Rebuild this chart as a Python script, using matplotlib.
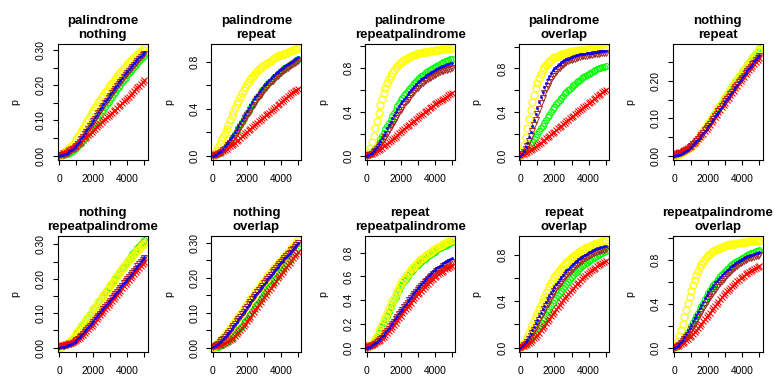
import matplotlib
matplotlib.use("Agg")
import matplotlib.pyplot as plt

plt.rcParams['font.family'] = ['Liberation Sans', 'DejaVu Sans']

x_vals = [0, 100, 200, 300, 400, 500, 600, 700, 800, 900,
          1000, 1100, 1200, 1300, 1400, 1500, 1600, 1700, 1800, 1900,
          2000, 2100, 2200, 2300, 2400, 2500, 2600, 2700, 2800, 2900,
          3000, 3100, 3200, 3300, 3400, 3500, 3600, 3700, 3800, 3900,
          4000, 4100, 4200, 4300, 4400, 4500, 4600, 4700, 4800, 4900,
          5000]

titles = ["palindrome\nnothing", "palindrome\nrepeat", "palindrome\nrepeatpalindrome",
          "palindrome\noverlap", "nothing\nrepeat", "nothing\nrepeatpalindrome",
          "nothing\noverlap", "repeat\nrepeatpalindrome", "repeat\noverlap",
          "repeatpalindrome\noverlap"]

# ---- panel 1: palindrome / nothing
pal_nothing_yellow = [.000,.003,.006,.010,.014,.018,.023,.028,.034,.040,
    .047,.055,.063,.071,.079,.087,.096,.104,.113,.122,
    .130,.138,.145,.152,.159,.166,.173,.180,.187,.194,
    .200,.207,.213,.219,.225,.231,.237,.243,.249,.255,
    .260,.265,.269,.274,.279,.284,.288,.293,.297,.301,
    .305]
pal_nothing_green = [.000,.000,.001,.002,.004,.006,.008,.011,.014,.018,
    .022,.027,.032,.038,.044,.050,.057,.064,.071,.078,
    .086,.093,.101,.108,.116,.123,.131,.138,.146,.153,
    .160,.167,.174,.181,.188,.195,.202,.208,.215,.221,
    .228,.234,.240,.246,.252,.257,.263,.268,.274,.279,
    .284]
pal_nothing_brown = [.000,.001,.002,.003,.005,.008,.011,.015,.019,.023,
    .028,.034,.040,.047,.054,.061,.068,.075,.083,.090,
    .098,.105,.113,.120,.128,.135,.142,.149,.156,.163,
    .170,.177,.184,.190,.197,.203,.210,.216,.223,.229,
    .235,.241,.247,.252,.258,.263,.269,.274,.280,.285,
    .290]
pal_nothing_blue = [.000,.001,.002,.004,.006,.009,.012,.016,.020,.025,
    .030,.036,.043,.050,.057,.064,.072,.079,.087,.094,
    .102,.109,.117,.124,.132,.139,.147,.154,.161,.168,
    .175,.182,.189,.195,.202,.208,.215,.221,.228,.234,
    .240,.246,.252,.257,.263,.268,.274,.279,.284,.289,
    .294]
pal_nothing_red = [.005,.006,.007,.008,.010,.012,.015,.018,.021,.024,
    .028,.032,.036,.040,.045,.049,.054,.058,.063,.068,
    .073,.077,.082,.086,.091,.095,.100,.104,.109,.113,
    .118,.122,.127,.131,.136,.140,.145,.149,.154,.158,
    .163,.168,.173,.178,.183,.188,.194,.199,.204,.209,
    .215]

# ---- panel 2: palindrome / repeat
pal_repeat_yellow = [.000,.018,.040,.070,.100,.130,.160,.195,.230,.265,
    .300,.335,.370,.405,.440,.470,.500,.530,.560,.585,
    .610,.630,.650,.670,.690,.705,.720,.735,.750,.760,
    .770,.780,.790,.800,.810,.820,.830,.840,.850,.855,
    .860,.865,.870,.878,.885,.890,.895,.900,.905,.910,
    .915]
pal_repeat_green = [.000,.004,.010,.017,.025,.037,.050,.067,.085,.102,
    .120,.140,.160,.185,.210,.235,.260,.285,.310,.335,
    .360,.385,.410,.433,.455,.478,.500,.520,.540,.560,
    .580,.595,.610,.625,.640,.655,.670,.683,.695,.708,
    .720,.733,.745,.755,.765,.775,.785,.795,.805,.815,
    .825]
pal_repeat_brown = [.000,.002,.005,.012,.020,.032,.045,.060,.075,.092,
    .110,.130,.150,.172,.195,.220,.245,.270,.295,.320,
    .345,.368,.390,.413,.435,.458,.480,.500,.520,.540,
    .560,.578,.595,.610,.625,.640,.655,.668,.680,.693,
    .705,.718,.730,.740,.750,.760,.770,.780,.790,.800,
    .810]
pal_repeat_blue = [.000,.004,.010,.019,.030,.044,.060,.080,.100,.120,
    .140,.160,.180,.205,.230,.255,.280,.305,.330,.355,
    .380,.405,.430,.455,.480,.500,.520,.540,.560,.580,
    .600,.615,.630,.645,.660,.675,.690,.703,.715,.728,
    .740,.750,.760,.770,.780,.790,.800,.810,.820,.830,
    .840]
pal_repeat_red = [.010,.012,.015,.020,.025,.032,.040,.050,.060,.070,
    .080,.090,.100,.112,.125,.138,.150,.165,.180,.193,
    .205,.218,.230,.243,.255,.268,.280,.293,.305,.318,
    .330,.343,.355,.368,.380,.393,.405,.418,.430,.443,
    .455,.468,.480,.493,.505,.518,.530,.540,.550,.560,
    .570]

# ---- panel 3: palindrome / repeatpalindrome
pal_reppal_yellow = [.000,.030,.070,.125,.180,.250,.320,.390,.460,.518,
    .570,.618,.660,.698,.730,.757,.780,.800,.820,.836,
    .850,.863,.875,.885,.895,.903,.910,.915,.920,.925,
    .930,.935,.940,.943,.945,.948,.950,.953,.955,.958,
    .960,.963,.965,.968,.970,.972,.973,.975,.976,.978,
    .980]
pal_reppal_green = [.000,.008,.020,.034,.050,.068,.090,.118,.150,.180,
    .210,.240,.270,.300,.330,.360,.390,.420,.450,.480,
    .510,.530,.550,.570,.590,.610,.630,.648,.665,.683,
    .700,.713,.725,.738,.750,.760,.770,.780,.790,.800,
    .810,.820,.830,.838,.845,.853,.860,.865,.870,.878,
    .885]
pal_reppal_brown = [.000,.004,.010,.019,.030,.044,.060,.080,.100,.125,
    .150,.175,.200,.230,.260,.285,.310,.340,.370,.395,
    .420,.445,.470,.490,.510,.530,.550,.570,.590,.605,
    .620,.635,.650,.665,.680,.690,.700,.710,.720,.730,
    .740,.748,.755,.763,.770,.775,.780,.785,.790,.795,
    .800]
pal_reppal_blue = [.000,.006,.015,.026,.040,.058,.080,.104,.130,.160,
    .190,.220,.250,.280,.310,.340,.370,.400,.430,.455,
    .480,.500,.520,.540,.560,.580,.600,.618,.635,.653,
    .670,.685,.700,.710,.720,.733,.745,.755,.765,.775,
    .785,.793,.800,.808,.815,.823,.830,.835,.840,.845,
    .850]
pal_reppal_red = [.010,.012,.015,.020,.025,.032,.040,.050,.060,.072,
    .085,.098,.110,.123,.135,.148,.160,.175,.190,.205,
    .220,.233,.245,.258,.270,.283,.295,.308,.320,.333,
    .345,.358,.370,.383,.395,.408,.420,.433,.445,.458,
    .470,.480,.490,.500,.510,.520,.530,.540,.550,.560,
    .570]

# ---- panel 4: palindrome / overlap
pal_overlap_yellow = [.000,.045,.100,.175,.250,.335,.420,.493,.560,.618,
    .670,.712,.750,.782,.810,.832,.850,.866,.880,.891,
    .900,.908,.915,.923,.930,.935,.940,.944,.948,.952,
    .955,.958,.960,.963,.965,.967,.968,.970,.971,.973,
    .974,.975,.976,.977,.978,.979,.980,.981,.982,.983,
    .984]
pal_overlap_green = [.000,.015,.030,.045,.060,.080,.100,.125,.150,.175,
    .200,.225,.250,.275,.300,.325,.350,.375,.400,.425,
    .450,.470,.490,.510,.530,.550,.570,.585,.600,.615,
    .630,.645,.660,.673,.685,.698,.710,.720,.730,.740,
    .750,.760,.770,.778,.785,.793,.800,.805,.810,.815,
    .820]
pal_overlap_brown = [.000,.012,.030,.058,.090,.133,.180,.230,.280,.330,
    .380,.430,.480,.527,.570,.607,.640,.672,.700,.727,
    .750,.771,.790,.806,.820,.833,.845,.855,.865,.873,
    .880,.885,.890,.895,.900,.905,.910,.913,.915,.918,
    .920,.923,.925,.928,.930,.933,.935,.938,.940,.943,
    .945]
pal_overlap_blue = [.000,.017,.040,.078,.120,.170,.220,.275,.330,.385,
    .440,.490,.540,.587,.630,.667,.700,.732,.760,.782,
    .800,.816,.830,.843,.855,.865,.875,.883,.890,.898,
    .905,.910,.915,.920,.925,.928,.930,.933,.935,.938,
    .940,.943,.945,.948,.950,.952,.953,.955,.956,.958,
    .960]
pal_overlap_red = [.010,.015,.020,.028,.035,.043,.050,.060,.070,.083,
    .095,.108,.120,.133,.145,.158,.170,.183,.195,.208,
    .220,.235,.250,.263,.275,.288,.300,.315,.330,.343,
    .355,.368,.380,.393,.405,.418,.430,.443,.455,.468,
    .480,.490,.500,.515,.530,.543,.555,.568,.580,.593,
    .605]

# ---- panel 5: nothing / repeat
noth_repeat_yellow = [.000,.001,.003,.005,.007,.009,.012,.015,.019,.023,
    .027,.032,.037,.042,.048,.054,.060,.066,.073,.080,
    .087,.093,.100,.107,.114,.121,.128,.135,.142,.149,
    .156,.163,.170,.176,.183,.190,.197,.203,.210,.216,
    .223,.229,.236,.242,.249,.255,.261,.267,.273,.279,
    .285]
noth_repeat_green = [.000,.001,.003,.005,.007,.009,.012,.015,.019,.023,
    .027,.032,.037,.042,.048,.054,.060,.066,.073,.080,
    .087,.094,.101,.108,.115,.122,.129,.136,.143,.150,
    .157,.164,.171,.178,.185,.192,.199,.205,.212,.218,
    .225,.231,.238,.244,.251,.257,.263,.269,.275,.281,
    .287]
noth_repeat_brown = [.002,.003,.004,.006,.008,.010,.013,.016,.019,.022,
    .026,.030,.035,.040,.045,.050,.056,.062,.068,.074,
    .080,.086,.093,.099,.106,.112,.119,.125,.132,.138,
    .145,.151,.158,.164,.171,.177,.183,.189,.196,.202,
    .208,.214,.220,.226,.232,.238,.244,.249,.255,.261,
    .266]
noth_repeat_blue = [.000,.001,.002,.003,.005,.007,.010,.013,.016,.020,
    .024,.028,.033,.038,.043,.048,.054,.060,.066,.072,
    .079,.085,.092,.098,.105,.111,.118,.124,.131,.138,
    .145,.151,.158,.164,.171,.177,.184,.190,.197,.203,
    .210,.216,.222,.228,.234,.240,.246,.252,.258,.264,
    .270]
noth_repeat_red = [.006,.007,.008,.009,.011,.013,.015,.017,.020,.023,
    .027,.031,.035,.039,.044,.049,.054,.059,.065,.071,
    .077,.083,.090,.096,.103,.109,.116,.122,.129,.135,
    .142,.148,.155,.161,.168,.174,.180,.186,.193,.199,
    .205,.211,.217,.223,.229,.234,.240,.245,.251,.256,
    .262]

# ---- panel 6: nothing / repeatpalindrome
noth_reppal_yellow = [.000,.002,.004,.007,.010,.014,.018,.023,.029,.035,
    .042,.048,.055,.062,.069,.076,.083,.090,.097,.104,
    .111,.118,.125,.132,.139,.146,.153,.160,.167,.174,
    .181,.188,.195,.202,.209,.216,.223,.230,.237,.243,
    .248,.254,.260,.266,.272,.277,.283,.288,.294,.299,
    .304]
noth_reppal_green = [.000,.002,.004,.007,.010,.014,.018,.023,.029,.035,
    .042,.048,.055,.062,.069,.076,.083,.090,.097,.104,
    .111,.118,.125,.132,.139,.146,.154,.161,.168,.175,
    .182,.189,.196,.203,.210,.217,.224,.231,.238,.245,
    .252,.258,.265,.271,.278,.284,.291,.296,.302,.307,
    .312]
noth_reppal_brown = [.004,.004,.005,.006,.007,.008,.010,.012,.015,.018,
    .021,.025,.030,.035,.040,.045,.051,.057,.063,.069,
    .075,.081,.087,.093,.099,.105,.112,.118,.124,.130,
    .137,.143,.149,.155,.162,.168,.174,.180,.187,.193,
    .199,.205,.212,.218,.224,.230,.237,.243,.249,.255,
    .262]
noth_reppal_blue = [.000,.001,.002,.003,.005,.007,.009,.012,.015,.018,
    .022,.027,.032,.037,.043,.049,.055,.061,.067,.073,
    .079,.085,.091,.097,.103,.109,.115,.121,.127,.133,
    .139,.145,.151,.157,.163,.169,.175,.181,.187,.193,
    .199,.205,.212,.218,.225,.231,.238,.244,.251,.257,
    .264]
noth_reppal_red = [.007,.007,.008,.009,.010,.011,.013,.015,.017,.019,
    .022,.025,.029,.033,.038,.043,.048,.053,.059,.064,
    .070,.076,.082,.088,.094,.100,.106,.112,.118,.124,
    .130,.136,.142,.148,.154,.160,.166,.172,.178,.184,
    .190,.196,.202,.208,.214,.220,.226,.232,.238,.244,
    .250]

# ---- panel 7: nothing / overlap
noth_overlap_yellow = [.003,.006,.010,.014,.019,.024,.030,.036,.042,.048,
    .055,.061,.068,.075,.082,.089,.096,.103,.110,.117,
    .124,.131,.138,.145,.152,.158,.165,.171,.178,.184,
    .191,.197,.204,.210,.216,.222,.228,.234,.240,.246,
    .252,.257,.263,.268,.274,.279,.285,.290,.296,.301,
    .307]
noth_overlap_green = [.000,.001,.002,.003,.005,.007,.010,.013,.016,.020,
    .024,.029,.034,.039,.045,.051,.057,.063,.070,.076,
    .083,.090,.097,.104,.111,.118,.125,.132,.139,.146,
    .153,.160,.167,.173,.180,.186,.193,.200,.206,.213,
    .220,.226,.233,.239,.246,.252,.259,.265,.272,.278,
    .285]
noth_overlap_brown = [.002,.005,.008,.012,.016,.021,.026,.031,.037,.043,
    .049,.055,.062,.068,.075,.082,.089,.096,.103,.110,
    .117,.124,.131,.138,.145,.151,.158,.164,.171,.177,
    .184,.190,.197,.203,.209,.215,.221,.227,.233,.239,
    .245,.250,.256,.261,.267,.272,.278,.283,.289,.294,
    .300]
noth_overlap_blue = [.001,.004,.007,.011,.015,.020,.025,.030,.036,.042,
    .048,.054,.061,.067,.074,.081,.088,.095,.102,.109,
    .116,.123,.130,.137,.144,.150,.157,.163,.170,.176,
    .183,.189,.196,.202,.208,.214,.220,.226,.232,.238,
    .244,.249,.255,.260,.266,.271,.277,.282,.288,.293,
    .299]
noth_overlap_red = [.005,.005,.006,.007,.008,.009,.011,.013,.015,.018,
    .021,.025,.029,.034,.039,.044,.050,.056,.062,.068,
    .075,.082,.089,.096,.103,.110,.117,.124,.131,.138,
    .145,.152,.159,.165,.172,.178,.185,.191,.198,.204,
    .211,.217,.224,.230,.237,.243,.250,.256,.262,.268,
    .274]

# ---- panel 8: repeat / repeatpalindrome
rep_reppal_yellow = [.000,.009,.020,.034,.050,.074,.100,.130,.160,.195,
    .230,.260,.290,.325,.360,.390,.420,.450,.480,.510,
    .540,.560,.580,.600,.620,.640,.660,.675,.690,.705,
    .720,.733,.745,.758,.770,.780,.790,.800,.810,.820,
    .830,.840,.850,.858,.865,.873,.880,.888,.895,.900,
    .905]
rep_reppal_green = [.000,.009,.020,.031,.045,.066,.090,.120,.150,.180,
    .210,.240,.270,.305,.340,.370,.400,.430,.460,.490,
    .520,.540,.560,.580,.600,.620,.640,.655,.670,.685,
    .700,.713,.725,.738,.750,.760,.770,.780,.790,.800,
    .810,.820,.830,.838,.845,.853,.860,.868,.875,.883,
    .890]
rep_reppal_brown = [.000,.005,.010,.017,.025,.035,.045,.057,.070,.085,
    .100,.120,.140,.160,.180,.200,.220,.240,.260,.280,
    .300,.320,.340,.360,.380,.398,.415,.433,.450,.468,
    .485,.503,.520,.535,.550,.565,.580,.593,.605,.618,
    .630,.643,.655,.665,.675,.685,.695,.703,.710,.718,
    .725]
rep_reppal_blue = [.000,.005,.010,.020,.030,.040,.050,.065,.080,.095,
    .110,.130,.150,.170,.190,.210,.230,.250,.270,.290,
    .310,.330,.350,.370,.390,.410,.430,.450,.470,.485,
    .500,.520,.540,.555,.570,.585,.600,.615,.630,.643,
    .655,.668,.680,.690,.700,.710,.720,.730,.740,.750,
    .760]
rep_reppal_red = [.020,.020,.020,.025,.030,.038,.045,.055,.065,.078,
    .090,.105,.120,.138,.155,.173,.190,.210,.230,.250,
    .270,.290,.310,.328,.345,.363,.380,.398,.415,.433,
    .450,.465,.480,.495,.510,.525,.540,.555,.570,.583,
    .595,.608,.620,.630,.640,.650,.660,.668,.675,.683,
    .690]

# ---- panel 9: repeat / overlap
rep_overlap_yellow = [.000,.020,.040,.063,.090,.125,.160,.195,.230,.265,
    .300,.335,.370,.405,.440,.470,.500,.530,.560,.585,
    .610,.630,.650,.670,.690,.705,.720,.735,.750,.765,
    .780,.790,.800,.810,.820,.830,.840,.850,.860,.865,
    .870,.878,.885,.890,.895,.900,.905,.910,.915,.920,
    .925]
rep_overlap_green = [.000,.010,.020,.030,.040,.055,.070,.090,.110,.135,
    .160,.185,.210,.235,.260,.285,.310,.335,.360,.385,
    .410,.430,.450,.470,.490,.510,.530,.550,.570,.590,
    .610,.625,.640,.655,.670,.685,.700,.710,.720,.733,
    .745,.755,.765,.775,.785,.793,.800,.808,.815,.823,
    .830]
rep_overlap_brown = [.000,.010,.020,.035,.050,.075,.100,.125,.150,.180,
    .210,.240,.270,.300,.330,.355,.380,.410,.440,.465,
    .490,.510,.530,.550,.570,.590,.610,.625,.640,.655,
    .670,.685,.700,.715,.730,.740,.750,.760,.770,.780,
    .790,.798,.805,.813,.820,.825,.830,.835,.840,.845,
    .850]
rep_overlap_blue = [.000,.015,.030,.050,.070,.095,.120,.150,.180,.210,
    .240,.270,.300,.330,.360,.390,.420,.445,.470,.495,
    .520,.545,.570,.590,.610,.630,.650,.665,.680,.695,
    .710,.725,.740,.750,.760,.770,.780,.790,.800,.810,
    .820,.828,.835,.843,.850,.855,.860,.865,.870,.875,
    .880]
rep_overlap_red = [.010,.012,.015,.022,.030,.040,.050,.065,.080,.095,
    .110,.130,.150,.170,.190,.210,.230,.250,.270,.290,
    .310,.330,.350,.370,.390,.410,.430,.445,.460,.480,
    .500,.515,.530,.545,.560,.575,.590,.605,.620,.633,
    .645,.658,.670,.680,.690,.700,.710,.720,.730,.740,
    .750]

# ---- panel 10: repeatpalindrome / overlap
reppal_overlap_yellow = [.000,.026,.060,.108,.160,.218,.280,.345,.410,.467,
    .520,.572,.620,.662,.700,.732,.760,.786,.810,.828,
    .845,.858,.870,.880,.890,.898,.905,.913,.920,.925,
    .930,.935,.940,.943,.945,.948,.950,.953,.955,.958,
    .960,.963,.965,.968,.970,.972,.973,.975,.976,.978,
    .980]
reppal_overlap_green = [.000,.009,.020,.034,.050,.069,.090,.114,.140,.170,
    .200,.230,.260,.290,.320,.350,.380,.410,.440,.470,
    .500,.525,.550,.570,.590,.610,.630,.650,.670,.685,
    .700,.715,.730,.745,.760,.770,.780,.790,.800,.810,
    .820,.830,.840,.848,.855,.860,.865,.873,.880,.885,
    .890]
reppal_overlap_brown = [.000,.007,.015,.027,.040,.060,.080,.100,.120,.145,
    .170,.195,.220,.250,.280,.305,.330,.360,.390,.415,
    .440,.465,.490,.510,.530,.550,.570,.590,.610,.628,
    .645,.663,.680,.695,.710,.723,.735,.748,.760,.770,
    .780,.790,.800,.808,.815,.820,.825,.830,.835,.840,
    .845]
reppal_overlap_blue = [.000,.009,.020,.034,.050,.074,.100,.125,.150,.180,
    .210,.240,.270,.300,.330,.360,.390,.420,.450,.480,
    .510,.533,.555,.575,.595,.613,.630,.648,.665,.680,
    .695,.708,.720,.733,.745,.758,.770,.780,.790,.800,
    .810,.818,.825,.833,.840,.845,.850,.855,.860,.865,
    .870]
reppal_overlap_red = [.010,.015,.020,.028,.035,.045,.055,.068,.080,.095,
    .110,.128,.145,.163,.180,.200,.220,.240,.260,.280,
    .300,.320,.340,.360,.380,.400,.420,.440,.460,.480,
    .500,.515,.530,.545,.560,.575,.590,.605,.620,.633,
    .645,.658,.670,.680,.690,.700,.710,.720,.730,.740,
    .750]

panel_series = [
    [pal_nothing_green, pal_nothing_yellow, pal_nothing_brown, pal_nothing_red, pal_nothing_blue],
    [pal_repeat_green, pal_repeat_yellow, pal_repeat_brown, pal_repeat_red, pal_repeat_blue],
    [pal_reppal_green, pal_reppal_yellow, pal_reppal_brown, pal_reppal_red, pal_reppal_blue],
    [pal_overlap_green, pal_overlap_yellow, pal_overlap_brown, pal_overlap_red, pal_overlap_blue],
    [noth_repeat_green, noth_repeat_yellow, noth_repeat_brown, noth_repeat_red, noth_repeat_blue],
    [noth_reppal_green, noth_reppal_yellow, noth_reppal_brown, noth_reppal_red, noth_reppal_blue],
    [noth_overlap_green, noth_overlap_yellow, noth_overlap_brown, noth_overlap_red, noth_overlap_blue],
    [rep_reppal_green, rep_reppal_yellow, rep_reppal_brown, rep_reppal_red, rep_reppal_blue],
    [rep_overlap_green, rep_overlap_yellow, rep_overlap_brown, rep_overlap_red, rep_overlap_blue],
    [reppal_overlap_green, reppal_overlap_yellow, reppal_overlap_brown, reppal_overlap_red, reppal_overlap_blue],
]

# marker styles (same order as series lists)
styles = [
    dict(color='#00FF00', marker='o', ms=4.2, mfc='none', mew=0.8),
    dict(color='#FFFF00', marker='o', ms=5.0, mfc='none', mew=0.9),
    dict(color='#A52A2A', marker='v', ms=4.2, mfc='none', mew=0.7),
    dict(color='#FF0000', marker='x', ms=4.6, mew=0.8),
    dict(color='#0000FF', marker='.', ms=3.2, mew=0.4),
]

# (tick step, label step, decimals)
tick_cfg = [(0.05, 0.10, 2), (0.2, 0.4, 1), (0.2, 0.4, 1), (0.2, 0.4, 1), (0.05, 0.10, 2),
            (0.05, 0.10, 2), (0.05, 0.10, 2), (0.2, 0.2, 1), (0.2, 0.4, 1), (0.2, 0.4, 1)]

W, H = 775, 376
fig = plt.figure(figsize=(W / 100, H / 100), dpi=100)

for i in range(10):
    r, c = divmod(i, 5)
    left = 57.6 + c * 153.75
    top = 44 + r * 192
    ax = fig.add_axes([left / W, 1 - (top + 116) / H, 90 / W, 116 / H])
    allv = []
    for s, st in zip(panel_series[i], styles):
        ax.plot(x_vals, s, linestyle='none', **st)
        allv += s
    lo, hi = min(allv), max(allv)
    ext = 0.04 * (hi - lo)
    ax.set_ylim(lo - ext, hi + ext)
    ax.set_xlim(-96, 5196)

    step, lstep, dec = tick_cfg[i]
    ticks = [k * step for k in range(0, 30) if k * step <= hi + ext]
    ax.set_yticks(ticks)
    labs = []
    for t in ticks:
        q = t / lstep
        labs.append(f"{t:.{dec}f}" if abs(q - round(q)) < 1e-6 else "")
    ax.set_yticklabels(labs)
    xt = [0, 1000, 2000, 3000, 4000, 5000]
    ax.set_xticks(xt)
    ax.set_xticklabels([str(t) if t % 2000 == 0 else "" for t in xt])

    ax.tick_params(direction='out', length=3.8, width=0.8, labelsize=7.4, colors='black')
    ax.tick_params(axis='x', pad=6.5)
    ax.tick_params(axis='y', pad=4.5, labelrotation=90)
    for lab in ax.get_yticklabels():
        lab.set_va('center')
    for sp in ax.spines.values():
        sp.set_linewidth(0.8)
    ax.set_title(titles[i], fontweight='bold', fontsize=9.5, pad=4, linespacing=1.3)
    ax.text(-0.47, 0.5, 'p', rotation=90, ha='center', va='center',
            transform=ax.transAxes, fontsize=7.6)

fig.savefig('out.png', dpi=100)
